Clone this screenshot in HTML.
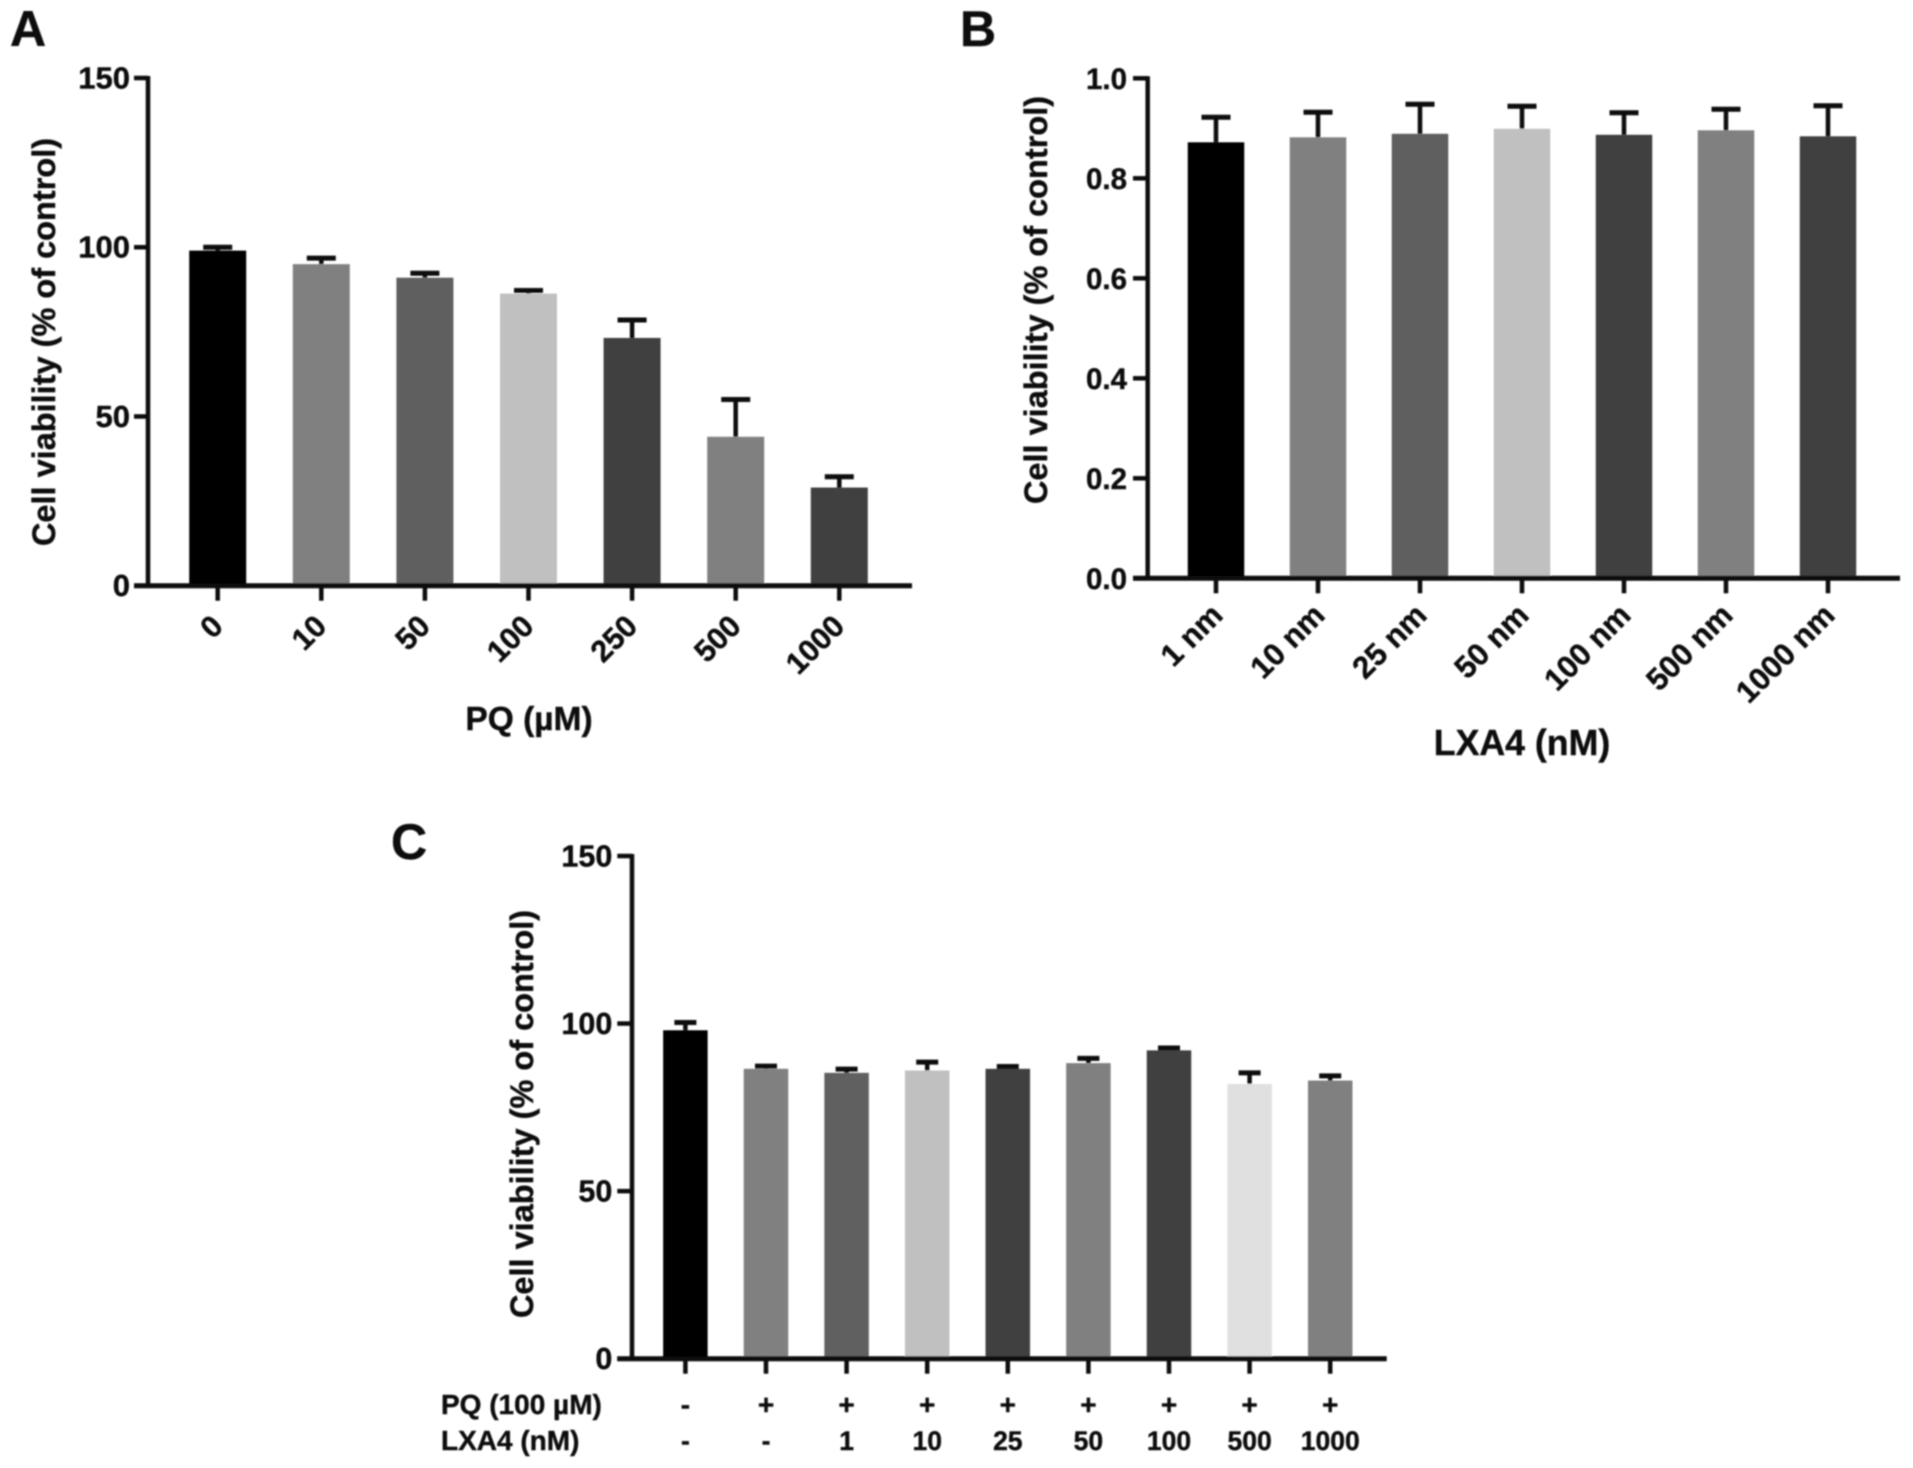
<!DOCTYPE html>
<html lang="en">
<head>
<meta charset="utf-8">
<title>Cell viability bar charts</title>
<style>
html,body{margin:0;padding:0;background:#fff;}
svg{display:block;}
text{font-family:"Liberation Sans",sans-serif;font-weight:bold;fill:#111;stroke:#111;stroke-width:0.4px;}
</style>
</head>
<body>
<svg id="fig" xmlns="http://www.w3.org/2000/svg" width="1913" height="1468" viewBox="0 0 1913 1468">
  <defs><filter id="soft" x="-5%" y="-5%" width="110%" height="110%"><feGaussianBlur stdDeviation="0.85"/></filter></defs>
  <g id="root" filter="url(#soft)"></g>
</svg>
<script>
const aCategories = ['0','10','50','100','250','500','1000'];
const aValues = [99,95,91,86.3,73.2,44,29];
const aErrorTops = [100,96.8,92.3,87.2,78.5,55,32.2];
const aColors = ['#000000','#808080','#5f5f5f','#c0c0c0','#404040','#808080','#404040'];
const aTicks = [0,50,100,150];

const bCategories = ['1 nm','10 nm','25 nm','50 nm','100 nm','500 nm','1000 nm'];
const bValues = [0.872,0.882,0.889,0.899,0.887,0.896,0.884];
const bErrorTops = [0.922,0.932,0.948,0.944,0.931,0.938,0.945];
const bColors = ['#000000','#808080','#5f5f5f','#c0c0c0','#404040','#808080','#404040'];
const bTicks = [0,0.2,0.4,0.6,0.8,1];
const bTickLabels = ['0.0','0.2','0.4','0.6','0.8','1.0'];

const cPQ = ['-','+','+','+','+','+','+','+','+'];
const cLXA4 = ['-','-','1','10','25','50','100','500','1000'];
const cValues = [98,86.5,85.3,86,86.5,88.2,92,82,83];
const cErrorTops = [100.3,87.3,86.4,88.5,87.2,89.6,92.7,85.3,84.4];
const cColors = ['#000000','#808080','#606060','#c0c0c0','#404040','#808080','#404040','#e0e0e0','#808080'];
const cTicks = [0,50,100,150];

const NS = 'http://www.w3.org/2000/svg';
const root = document.getElementById('root');

function line(x1,y1,x2,y2,w,name){
  const el = document.createElementNS(NS,'line');
  el.setAttribute('x1',x1);
  el.setAttribute('y1',y1);
  el.setAttribute('x2',x2);
  el.setAttribute('y2',y2);
  el.setAttribute('stroke','#0c0c0c');
  el.setAttribute('stroke-width',w);
  
  
  root.appendChild(el);
}
function label(str,x,y,size,anchor,rot,name){
  const el = document.createElementNS(NS,'text');
  el.textContent = str;
  el.setAttribute('font-size',size);
  el.setAttribute('text-anchor',anchor);
  let t = 'translate('+x+' '+y+')';
  if(rot) t += ' rotate('+rot+')';
  el.setAttribute('transform',t);
  
  
  root.appendChild(el);
}

function drawPanel(p){
  const x = i => p.x0 + i*p.step;
  const y = v => p.yZero - (v/p.yMax)*(p.yZero-p.yTop);
  p.values.forEach((v,i)=>{
    const top = y(p.errs[i]);
    line(x(i),y(v),x(i),top,4.5,p.id+'-error-bar-'+i);
    line(x(i)-p.cap,top,x(i)+p.cap,top,5,p.id+'-error-cap-'+i);
    const el = document.createElementNS(NS,'rect');
    el.setAttribute('x',x(i)-p.barW/2);
    el.setAttribute('y',y(v));
    el.setAttribute('width',p.barW);
    el.setAttribute('height',p.yZero-y(v));
    el.setAttribute('fill',p.colors[i]);
    
    
    root.appendChild(el);
  });
  line(p.axisX,p.yTop-2,p.axisX,p.yZero+2,4.5,p.id+'-y-axis');
  line(p.tickL,p.yZero,p.xEnd,p.yZero,5,p.id+'-x-axis');
  p.ticks.forEach((t,i)=>{
    line(p.tickL,y(t),p.axisX,y(t),4.5,p.id+'-y-tick-'+i);
    const txt = p.tickLabels ? p.tickLabels[i] : String(t);
    label(txt,p.tickL-p.labelGap,y(t)+10.5,p.tickFont,'end',0,p.id+'-y-tick-label-'+i);
  });
  p.values.forEach((v,i)=>{
    line(x(i),p.yZero,x(i),p.yZero+p.tickLen,4.5,p.id+'-x-tick-'+i);
  });
  return x;
}

const xA = drawPanel({id:'panel-a',x0:217.7,step:103.6,barW:57,cap:14.5,axisX:148,tickL:134,xEnd:912,
  yTop:78,yZero:585.7,yMax:150,values:aValues,errs:aErrorTops,colors:aColors,ticks:aTicks,tickFont:31,labelGap:4,tickLen:15});
aCategories.forEach((c,i)=>{
  label(c,xA(i)+7,628,30.5,'end',-45,'panel-a-category-label-'+i);
});
label('Cell viability (% of control)',55,342,32.5,'middle',-90,'panel-a-y-axis-title');
label('PQ (µM)',529,730,33.5,'middle',0,'panel-a-x-axis-title');
label('A',10,46,50,'start',0,'panel-a-letter');

const xB = drawPanel({id:'panel-b',x0:1216,step:102,barW:56.5,cap:14.5,axisX:1147.7,tickL:1133,xEnd:1900,
  yTop:78.3,yZero:578.3,yMax:1,values:bValues,errs:bErrorTops,colors:bColors,ticks:bTicks,tickLabels:bTickLabels,tickFont:29.5,labelGap:6,tickLen:15});
bCategories.forEach((c,i)=>{
  label(c,xB(i)+8.5,617,31,'end',-45,'panel-b-category-label-'+i);
});
label('Cell viability (% of control)',1047,300,32.5,'middle',-90,'panel-b-y-axis-title');
label('LXA4 (nM)',1522,755,35.7,'middle',0,'panel-b-x-axis-title');
label('B',960,46,50,'start',0,'panel-b-letter');

const xC = drawPanel({id:'panel-c',x0:685.4,step:80.6,barW:44.5,cap:11,axisX:632,tickL:617.3,xEnd:1386.7,
  yTop:856,yZero:1358.7,yMax:150,values:cValues,errs:cErrorTops,colors:cColors,ticks:cTicks,tickFont:30.5,labelGap:5,tickLen:15});
label('Cell viability (% of control)',533,1114,32.5,'middle',-90,'panel-c-y-axis-title');
label('C',391,859,50,'start',0,'panel-c-letter');
label('PQ (100 µM)',441,1414,28,'start',0,'panel-c-row-label-pq');
label('LXA4 (nM)',441,1450,28,'start',0,'panel-c-row-label-lxa4');
cPQ.forEach((c,i)=>{
  label(c,xC(i),1414,28,'middle',0,'panel-c-pq-value-'+i);
});
cLXA4.forEach((c,i)=>{
  label(c,xC(i),1450,26.5,'middle',0,'panel-c-lxa4-value-'+i);
});
</script>
</body>
</html>
